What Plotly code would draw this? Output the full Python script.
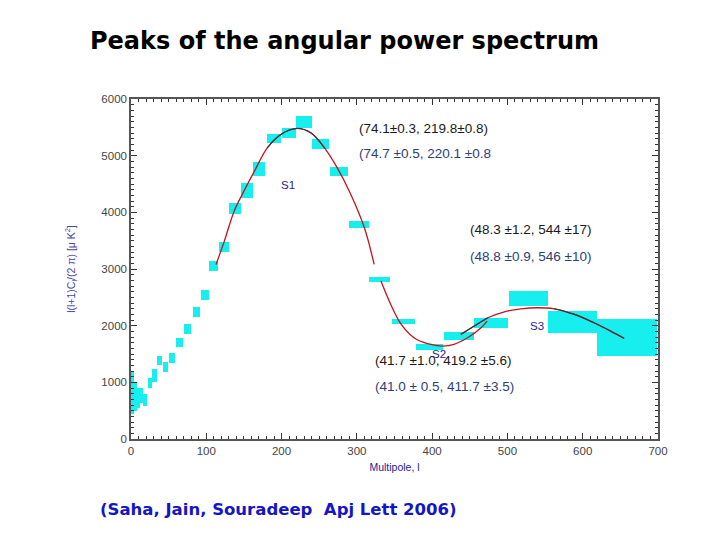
import plotly.graph_objects as go

# ---- data boxes (band powers): center l, width in l, C centre / height ----
box_l = [2, 6, 10, 14, 19, 25, 31, 38, 46, 55, 64, 75, 87, 98,
         110, 123, 138, 154, 170, 190, 210, 230, 252, 276, 303, 330,
         362, 396, 436, 478, 528, 587, 659]
box_w = [3, 5, 5, 4, 5, 6, 6, 7, 7, 8, 9, 9, 10, 10,
         12, 13, 15, 16, 17, 19, 19, 21, 22, 24, 27, 29,
         30, 36, 40, 45, 52, 65, 80]
box_c = [820, 745, 725, 770, 690, 985, 1120, 1393, 1270, 1429, 1702, 1940, 2240, 2540,
         3051, 3386, 4065, 4383, 4762, 5300, 5397, 5591, 5203, 4718, 3783, 2813,
         2072, 1622, 1817, 2046, 2478, 2063, 1790]
box_h = [760, 490, 350, 260, 220, 180, 230, 160, 180, 180, 160, 180, 180, 180,
         176, 176, 190, 265, 247, 160, 176, 212, 176, 160, 123, 90,
         90, 106, 141, 176, 265, 388, 653]

# ---- fitted peak curves ----
s1_l = [113, 124, 137, 150, 164, 181, 199, 221, 239, 257, 274, 292, 310, 323]
s1_c = [3081, 3492, 4021, 4374, 4727, 5138, 5374, 5480, 5402, 5138, 4785, 4315, 3727, 3081]
s2_l = [332, 345, 359, 376, 394, 414, 429, 447, 465, 473]
s2_c = [2787, 2375, 2022, 1786, 1681, 1640, 1670, 1786, 1963, 2081]
s3_l = [438, 456, 474, 496, 518, 540, 562, 589, 615, 637, 655]
s3_c = [1846, 1993, 2140, 2245, 2298, 2316, 2298, 2199, 2051, 1905, 1776]

x_ticks = [0, 100, 200, 300, 400, 500, 600, 700]
y_ticks = [0, 1000, 2000, 3000, 4000, 5000, 6000]

RED = "#C0141C"
DARK = "#2E3440"
CYAN = "#17EEEE"

fig = go.Figure()
fig.add_trace(go.Bar(
    x=box_l, width=box_w,
    base=[c - h / 2 for c, h in zip(box_c, box_h)],
    y=box_h, marker=dict(color=CYAN, line=dict(width=0)),
    hoverinfo="skip", showlegend=False))

for lx, cy in [(s1_l, s1_c), (s2_l, s2_c), (s3_l, s3_c)]:
    fig.add_trace(go.Scatter(x=lx, y=cy, mode="lines", line=dict(color=RED, width=1.3, shape="spline"),
                             showlegend=False, hoverinfo="skip"))
# darker overlapping fit near the peaks
fig.add_trace(go.Scatter(x=s1_l[5:10], y=s1_c[5:10], mode="lines",
                         line=dict(color=DARK, width=1.1, shape="spline"), showlegend=False))
fig.add_trace(go.Scatter(x=s3_l[0:3], y=s3_c[0:3], mode="lines",
                         line=dict(color=DARK, width=1.1, shape="spline"), showlegend=False))
fig.add_trace(go.Scatter(x=s3_l[6:], y=s3_c[6:], mode="lines",
                         line=dict(color=DARK, width=1.1, shape="spline"), showlegend=False))

ann_font = "Liberation Sans, Arial, sans-serif"
BLK = "#1A1A1A"
BLU = "#2B3F78"
NAV = "#24248C"
notes = [
    (300, 5485, "(74.1±0.3, 219.8±0.8)", BLK),
    (300, 5044, "(74.7 ±0.5, 220.1 ±0.8", BLU),
    (447, 3704, "(48.3 ±1.2, 544 ±17)", BLK),
    (447, 3228, "(48.8 ±0.9, 546 ±10)", BLU),
    (322, 1393, "(41.7 ±1.0, 419.2 ±5.6)", BLK),
    (322, 935, "(41.0 ± 0.5, 411.7 ±3.5)", BLU),
]
for x, y, t, c in notes:
    fig.add_annotation(x=x, y=y, text=t, showarrow=False, xanchor="left", yanchor="middle",
                       font=dict(family=ann_font, size=13.5, color=c))
for x, y, t in [(208, 4480, "S1"), (409, 1500, "S2"), (539, 1993, "S3")]:
    fig.add_annotation(x=x, y=y, text=t, showarrow=False, xanchor="center", yanchor="middle",
                       font=dict(family=ann_font, size=11.5, color=NAV))

fig.add_annotation(xref="paper", yref="paper", x=0.406, y=1.0, xanchor="center", yanchor="middle",
                   text="<b>Peaks of the angular power spectrum</b>", showarrow=False, yshift=58,
                   font=dict(family="DejaVu Sans, sans-serif", size=24, color="#000000"))
fig.add_annotation(xref="paper", yref="paper", x=-0.0626, y=0, xanchor="left", yanchor="middle",
                   text="<b>(Saha, Jain, Souradeep  Apj Lett 2006)</b>", showarrow=False, yshift=-70,
                   font=dict(family="DejaVu Sans, sans-serif", size=16.5, color="#1414C8"))

axis_common = dict(showgrid=False, zeroline=False, showline=True, linecolor="#555555", linewidth=1.5,
                   mirror="allticks", ticks="inside", tickcolor="#333333",
                   tickfont=dict(family=ann_font, size=11.5, color="#444444"))
fig.update_xaxes(range=[0, 700], tickvals=x_ticks, ticklen=6,
                 minor=dict(dtick=10, ticklen=3, ticks="inside", tickcolor="#333333"),
                 title=dict(text="Multipole, l", font=dict(family=ann_font, size=10.5, color="#2020A0"), standoff=8),
                 **axis_common)
fig.update_yaxes(range=[0, 6000], tickvals=y_ticks, ticklen=6,
                 minor=dict(dtick=100, ticklen=3, ticks="inside", tickcolor="#333333"),
                 title=dict(text="l(l+1)C<sub>l</sub>/(2 π) [μ K<sup>2</sup>]",
                            font=dict(family=ann_font, size=10.5, color="#4545A8"), standoff=24),
                 **axis_common)

fig.update_layout(width=720, height=540, margin=dict(l=123, r=70, t=91, b=109),
                  paper_bgcolor="white", plot_bgcolor="white", barmode="overlay", bargap=0,
                  showlegend=False)

fig.write_html("out.html")
